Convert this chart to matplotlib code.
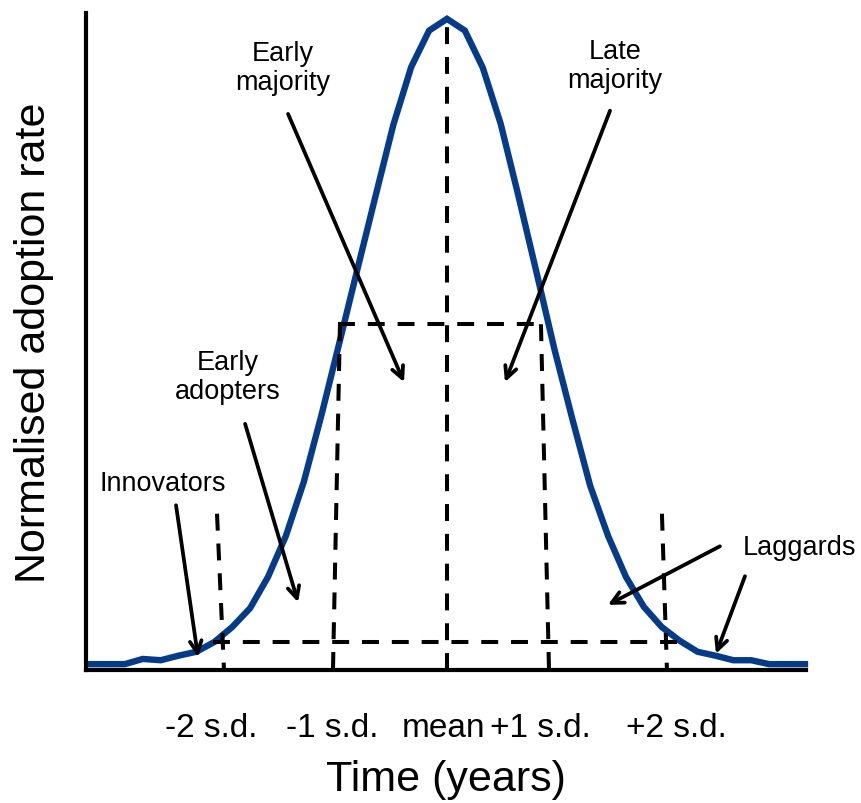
import numpy as np
import matplotlib
matplotlib.use("Agg")
import matplotlib.pyplot as plt

plt.rcParams['font.family'] = ['Liberation Sans', 'DejaVu Sans']

# curve vertices: time in steps from the mean, rate as % of peak
time_steps = np.arange(-20, 21)
adoption_rate = [0.9, 0.9, 0.9, 1.7, 1.5, 2.2, 2.8, 4.3, 6.6, 9.5, 14.3,
                 20.6, 28.9, 39.3, 50.4, 61.6, 72.7, 83.7, 92.6, 98.2, 100.0,
                 98.2, 92.5, 83.9, 72.7, 61.1, 49.3, 38.6, 28.3, 20.6, 14.3,
                 9.7, 6.6, 4.5, 2.8, 2.2, 1.5, 1.5, 0.9, 0.9, 0.9]

tick_pos = [-13.2, -6.4, -0.17, 5.2, 12.8]
tick_labels = ['-2 s.d.', '-1 s.d.', 'mean', '+1 s.d.', '+2 s.d.']

# dashed guide lines (x0, y0, x1, y1)
guides = [
    (0.0, 0.0, 0.0, 100.0),
    (-6.09, 53.1, 5.25, 53.1),
    (-5.98, 53.1, -6.37, 0.0),
    (5.25, 53.1, 5.70, 0.0),
    (-13.07, 4.3, 13.30, 4.3),
    (-12.85, 24.0, -12.46, 0.0),
    (12.01, 24.0, 12.29, 0.0),
]

# category labels and their arrows
labels = ['Early\nmajority', 'Late\nmajority', 'Early\nadopters', 'Innovators', 'Laggards']
label_xy = [(-9.16, 92.6), (9.39, 92.9), (-12.23, 45.0), (-15.87, 28.7), (19.72, 18.9)]
arrows = [  # (start, tip)
    ((-8.88, 85.4), (-2.40, 44.2)),
    ((9.11, 85.9), (3.24, 44.2)),
    ((-11.28, 37.8), (-8.32, 10.4)),
    ((-15.14, 25.3), (-13.91, 2.0)),
    ((15.25, 19.0), (8.99, 10.0)),
    ((16.65, 14.4), (15.03, 2.5)),
]

fig = plt.figure(figsize=(8.61, 8.04), dpi=100)
ax = fig.add_axes([86/861, 133/804, 720/861, 657/804])

ax.plot(time_steps, adoption_rate, color='#063b8a', lw=4.6, clip_on=False,
        solid_joinstyle='miter', zorder=2)

for x0, y0, x1, y1 in guides:
    ax.plot([x0, x1], [y0, y1], color='black', lw=2.9, dashes=(4.2, 3.2),
            solid_capstyle='butt', zorder=3)

for text, (tx, ty) in zip(labels, label_xy):
    ax.text(tx, ty, text, ha='center', va='center', fontsize=19.5,
            linespacing=1.15)

for start, tip in arrows:
    ax.annotate('', xy=tip, xytext=start,
                arrowprops=dict(arrowstyle='->,head_length=0.85,head_width=0.42',
                                color='black', lw=2.7, shrinkA=0, shrinkB=0),
                zorder=4)

ax.set_xlim(-20.17, 20.06)
ax.set_ylim(0, 100.9)
ax.spines['top'].set_visible(False)
ax.spines['right'].set_visible(False)
ax.spines['left'].set_linewidth(3)
ax.spines['bottom'].set_linewidth(3)
ax.set_yticks([])
ax.set_xticks(tick_pos)
ax.set_xticklabels(tick_labels, fontsize=24)
ax.tick_params(axis='x', length=0, pad=30)

ax.set_xlabel('Time (years)', fontsize=31, labelpad=12)
ax.set_ylabel('Normalised adoption rate', fontsize=31, labelpad=23)

fig.savefig('out.png', dpi=100)
